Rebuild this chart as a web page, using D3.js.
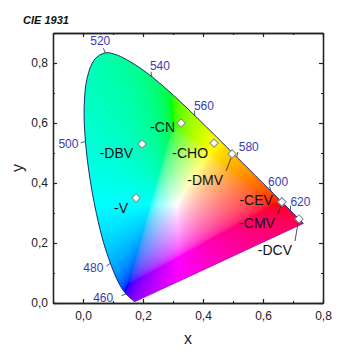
<!DOCTYPE html>
<html>
<head>
<meta charset="utf-8">
<script src="https://cdn.jsdelivr.net/npm/d3@7"></script>
<style>
body { margin: 0; background: #fff; }
text { font-family: "Liberation Sans", Arial, sans-serif; }
</style>
</head>
<body>
<div id="chart"></div>
<script>
// CIE 1931 spectral locus (chromaticity coordinates)
const locusNm = [380, 400, 420, 430, 440, 450, 455, 460, 465, 470, 475, 480, 485, 490, 495, 500, 505, 510, 515, 520, 525, 530, 535, 540, 545, 550, 555, 560, 565, 570, 575, 580, 585, 590, 595, 600, 605, 610, 615, 620, 625, 630, 635, 640, 650, 660, 680, 700];
const locusX = [0.1741, 0.1733, 0.1714, 0.1689, 0.1644, 0.1566, 0.1510, 0.1440, 0.1355, 0.1241, 0.1096, 0.0913, 0.0687, 0.0454, 0.0235, 0.0082, 0.0039, 0.0139, 0.0389, 0.0743, 0.1142, 0.1547, 0.1929, 0.2296, 0.2658, 0.3016, 0.3373, 0.3731, 0.4087, 0.4441, 0.4788, 0.5125, 0.5448, 0.5752, 0.6029, 0.6270, 0.6482, 0.6658, 0.6801, 0.6915, 0.7006, 0.7079, 0.7140, 0.7190, 0.7260, 0.7300, 0.7334, 0.7347];
const locusY = [0.0050, 0.0048, 0.0051, 0.0069, 0.0109, 0.0177, 0.0227, 0.0297, 0.0399, 0.0578, 0.0868, 0.1327, 0.2007, 0.2950, 0.4127, 0.5384, 0.6548, 0.7502, 0.8120, 0.8338, 0.8262, 0.8059, 0.7816, 0.7543, 0.7243, 0.6923, 0.6589, 0.6245, 0.5896, 0.5547, 0.5202, 0.4866, 0.4544, 0.4242, 0.3965, 0.3725, 0.3514, 0.3340, 0.3197, 0.3083, 0.2993, 0.2920, 0.2859, 0.2809, 0.2740, 0.2700, 0.2666, 0.2653];

// wavelengths labelled on the locus
const labelNm = [460, 480, 500, 520, 540, 560, 580, 600, 620];

// marked samples
const pointNames = ['CN', 'DBV', 'CHO', 'DMV', 'V', 'CEV', 'CMV', 'DCV'];
const pointX = [0.327, 0.197, 0.437, 0.497, 0.177, 0.663, 0.663, 0.720];
const pointY = [0.600, 0.530, 0.533, 0.497, 0.350, 0.337, 0.337, 0.280];

const xTicks = [0, 0.2, 0.4, 0.6, 0.8];
const yTicks = [0, 0.2, 0.4, 0.6, 0.8];
const xMinor = [-0.1, 0.1, 0.3, 0.5, 0.7];
const yMinor = [0.1, 0.3, 0.5, 0.7, 0.9];

// layout: label offsets in px (dx,dy of text end from point) and leader flag
const labelLayout = {
    CN: [-6, 4, false], DBV: [-9, 9, false], CHO: [-6, 10, false], DMV: [-9, 26, true],
    V: [-8, 10, false], CEV: [-9, -2, false], CMV: [-7, 21, true], DCV: [-7, 31, true]
};
const nmLayout = {
    460: [-13, 4, 'end'], 480: [-7, 5, 'end'], 500: [-7, 2, 'end'], 520: [-5, -12, 'middle'],
    540: [-2, -11, 'start'], 560: [-1, -10, 'start'], 580: [2, -10, 'start'], 600: [-3, -9, 'start'], 620: [0, -9, 'start']
};

const width = 358, height = 360;
const marginLeft = 53, marginTop = 33, plotW = 270, plotH = 270;

const x = d3.scaleLinear().domain([-0.1, 0.8]).range([marginLeft, marginLeft + plotW]);
const y = d3.scaleLinear().domain([0, 0.9]).range([marginTop + plotH, marginTop]);

const svg = d3.select('#chart').append('svg')
    .attr('width', width)
    .attr('height', height);

// colour field: xy -> sRGB
function xyToRgb(cx, cy) {
    const X = cx / cy, Y = 1, Z = (1 - cx - cy) / cy;
    let r = 3.2406 * X - 1.5372 * Y - 0.4986 * Z;
    let g = -0.9689 * X + 1.8758 * Y + 0.0415 * Z;
    let b = 0.0557 * X - 0.2040 * Y + 1.0570 * Z;
    const m = Math.min(r, g, b);
    if (m < 0) { r -= m; g -= m; b -= m; }
    const M = Math.max(r, g, b);
    const gam = v => {
        v = v / M;
        v = v <= 0.0031308 ? 12.92 * v : 1.055 * Math.pow(v, 1 / 2.4) - 0.055;
        return Math.round(Math.max(0, Math.min(1, v)) * 255);
    };
    return [gam(r), gam(g), gam(b)];
}

const canvas = document.createElement('canvas');
canvas.width = plotW;
canvas.height = plotH;
const ctx = canvas.getContext('2d');
const img = ctx.createImageData(plotW, plotH);
for (let j = 0; j < plotH; j++) {
    for (let i = 0; i < plotW; i++) {
        const cx = x.invert(marginLeft + i + 0.5);
        const cy = Math.max(y.invert(marginTop + j + 0.5), 0.002);
        const c = xyToRgb(cx, cy);
        const k = (j * plotW + i) * 4;
        img.data[k] = c[0];
        img.data[k + 1] = c[1];
        img.data[k + 2] = c[2];
        img.data[k + 3] = 255;
    }
}
ctx.putImageData(img, 0, 0);

const locus = locusNm.map((nm, i) => [locusX[i], locusY[i]]);
const line = d3.line().x(d => x(d[0])).y(d => y(d[1])).curve(d3.curveCatmullRom);

svg.append('clipPath').attr('id', 'locus-clip')
    .append('path').attr('d', line(locus) + 'Z');

svg.append('image')
    .attr('x', marginLeft)
    .attr('y', marginTop)
    .attr('width', plotW)
    .attr('height', plotH)
    .attr('href', canvas.toDataURL())
    .attr('clip-path', 'url(#locus-clip)');

svg.append('path')
    .attr('d', line(locus))
    .attr('fill', 'none')
    .attr('stroke', '#1c2a6e')
    .attr('stroke-width', 1);

svg.append('line')
    .attr('x1', x(locusX[0])).attr('y1', y(locusY[0]))
    .attr('x2', x(locusX[locusX.length - 1])).attr('y2', y(locusY[locusY.length - 1]))
    .attr('stroke', '#8a1fb0')
    .attr('stroke-width', 0.8);

// wavelength labels
const nmG = svg.append('g');
labelNm.forEach(nm => {
    const i = locusNm.indexOf(nm);
    const px = x(locusX[i]), py = y(locusY[i]);
    const [dx, dy, anchor] = nmLayout[nm];
    const len = Math.hypot(dx, dy);
    nmG.append('line')
        .attr('x1', px).attr('y1', py)
        .attr('x2', px + dx * 5 / len).attr('y2', py + dy * 5 / len)
        .attr('stroke', '#1c2a6e').attr('stroke-width', 0.8);
    nmG.append('text')
        .attr('x', px + dx).attr('y', py + dy)
        .attr('dy', '0.35em')
        .attr('text-anchor', anchor)
        .attr('font-size', 12)
        .attr('fill', '#3b3bb0')
        .text(nm);
});

// sample points
const ptG = svg.append('g');
pointNames.forEach((name, i) => {
    const px = x(pointX[i]), py = y(pointY[i]);
    const [dx, dy, leader] = labelLayout[name];
    if (leader) {
        ptG.append('line')
            .attr('x1', px + dx + 3).attr('y1', py + dy - 9)
            .attr('x2', px - 1).attr('y2', py + 4)
            .attr('stroke', '#222').attr('stroke-width', 0.8);
    }
});
pointNames.forEach((name, i) => {
    const px = x(pointX[i]), py = y(pointY[i]);
    const [dx, dy] = labelLayout[name];
    ptG.append('path')
        .attr('d', d3.symbol(d3.symbolSquare, 34)())
        .attr('transform', `translate(${px},${py}) rotate(45)`)
        .attr('fill', '#fff')
        .attr('stroke', '#8a8a8a')
        .attr('stroke-width', 1);
    ptG.append('text')
        .attr('x', px + dx).attr('y', py + dy)
        .attr('dy', '0.35em')
        .attr('text-anchor', 'end')
        .attr('font-size', 14)
        .attr('fill', '#111')
        .text('-' + name);
});

// axes
const fmt = d => d3.format('.1f')(d).replace('.', ',').replace('-0,0', '0,0');
const axisStyle = g => {
    g.select('.domain').attr('stroke', '#222').attr('stroke-width', 1.3);
    g.selectAll('.tick line').attr('stroke', '#222').attr('stroke-width', 1.2);
    g.selectAll('.tick text').attr('fill', '#222').attr('font-size', 12)
        .attr('font-family', '"Liberation Sans", Arial, sans-serif');
};

svg.append('g').attr('transform', `translate(0,${marginTop + plotH})`)
    .call(d3.axisBottom(x).tickValues(xTicks).tickFormat(fmt).tickSizeInner(-4).tickSizeOuter(0).tickPadding(8))
    .call(axisStyle);
svg.append('g').attr('transform', `translate(0,${marginTop + plotH})`)
    .call(d3.axisBottom(x).tickValues(xMinor).tickFormat('').tickSizeInner(-2).tickSizeOuter(0))
    .call(axisStyle);
svg.append('g').attr('transform', `translate(0,${marginTop})`)
    .call(d3.axisTop(x).tickValues(xTicks).tickFormat('').tickSizeInner(-4).tickSizeOuter(0))
    .call(axisStyle);
svg.append('g').attr('transform', `translate(0,${marginTop})`)
    .call(d3.axisTop(x).tickValues(xMinor).tickFormat('').tickSizeInner(-2).tickSizeOuter(0))
    .call(axisStyle);

svg.append('g').attr('transform', `translate(${marginLeft},0)`)
    .call(d3.axisLeft(y).tickValues(yTicks).tickFormat(fmt).tickSizeInner(-4).tickSizeOuter(0).tickPadding(5))
    .call(axisStyle);
svg.append('g').attr('transform', `translate(${marginLeft},0)`)
    .call(d3.axisLeft(y).tickValues(yMinor).tickFormat('').tickSizeInner(-2).tickSizeOuter(0))
    .call(axisStyle);
svg.append('g').attr('transform', `translate(${marginLeft + plotW},0)`)
    .call(d3.axisRight(y).tickValues(yTicks).tickFormat('').tickSizeInner(-4).tickSizeOuter(0))
    .call(axisStyle);
svg.append('g').attr('transform', `translate(${marginLeft + plotW},0)`)
    .call(d3.axisRight(y).tickValues(yMinor).tickFormat('').tickSizeInner(-2).tickSizeOuter(0))
    .call(axisStyle);

// axis titles
svg.append('text')
    .attr('x', marginLeft + plotW / 2)
    .attr('y', 344)
    .attr('text-anchor', 'middle')
    .attr('font-size', 16)
    .attr('fill', '#222')
    .text('x');
svg.append('text')
    .attr('transform', `translate(23,${marginTop + plotH / 2}) rotate(-90)`)
    .attr('text-anchor', 'middle')
    .attr('font-size', 16)
    .attr('fill', '#222')
    .text('y');

svg.append('text')
    .attr('x', 23)
    .attr('y', 24)
    .attr('font-size', 11)
    .attr('font-weight', 'bold')
    .attr('font-style', 'italic')
    .attr('fill', '#111')
    .text('CIE 1931');
</script>
</body>
</html>
